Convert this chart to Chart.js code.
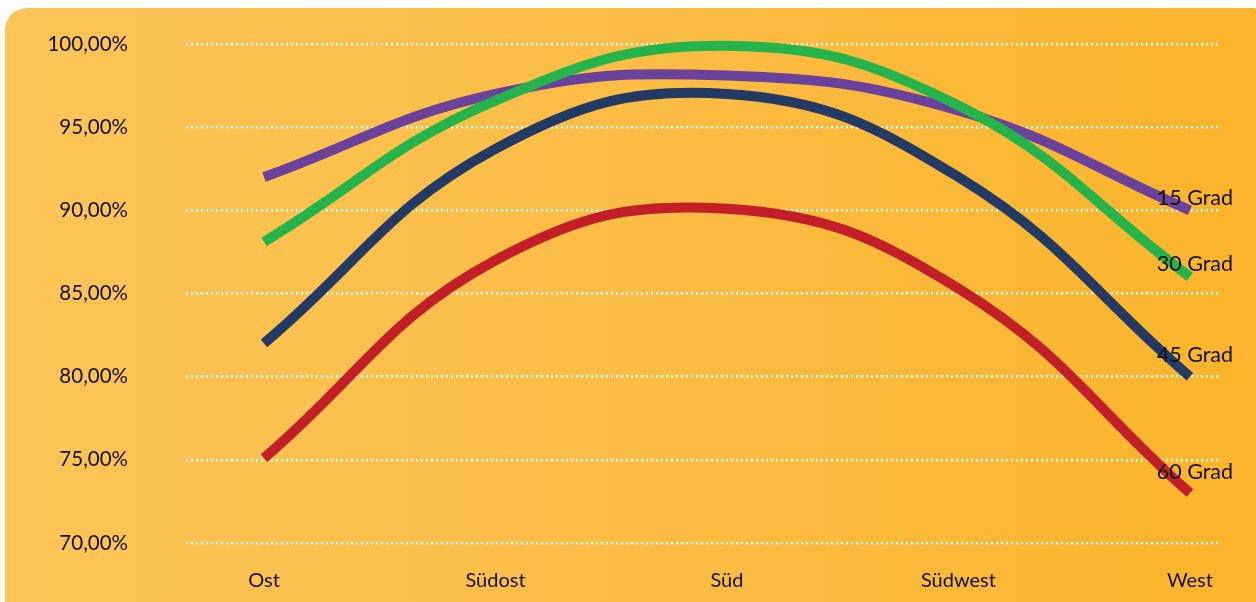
<!DOCTYPE html>
<html>
<head>
<meta charset="utf-8">
<script src="https://cdn.jsdelivr.net/npm/chart.js@4"></script>
<style>
  html, body { margin: 0; padding: 0; background: #fff; overflow: hidden; }
  #wrap {
    position: absolute; left: 5px; top: 8px; width: 1270px; height: 620px;
    border-radius: 22px;
    background: linear-gradient(to right, #fdc457 0%, #fcbd45 50%, #fbb42a 100%);
  }
  #chart { position: absolute; left: 0; top: 0; }
</style>
</head>
<body>
<div id="wrap"></div>
<canvas id="chart" width="1256" height="602"></canvas>
<script>
// Kategorien (Ausrichtung) und Werte in Prozent
const categories = ['Ost', 'Südost', 'Süd', 'Südwest', 'West'];
const seriesNames = ['15 Grad', '30 Grad', '45 Grad', '60 Grad'];
const grad15 = [92.0, 97.0, 98.1, 96.0, 90.0];
const grad30 = [88.1, 96.6, 99.9, 96.3, 86.0];
const grad45 = [82.0, 93.7, 97.0, 92.0, 80.0];
const grad60 = [75.1, 87.0, 90.1, 85.3, 73.0];
const yTicks = [70, 75, 80, 85, 90, 95, 100];

const colors = ['#6a419b', '#25b34b', '#223a64', '#c21f28'];
const allSeries = [grad15, grad30, grad45, grad60];

// Beschriftung am Linienende
const endLabels = {
    id: 'endLabels',
    afterDatasetsDraw(chart) {
        const ctx = chart.ctx;
        const offsets = { '15 Grad': 12, '30 Grad': 13, '45 Grad': 22, '60 Grad': 21 };
        ctx.save();
        ctx.font = '21.5px Lato';
        ctx.fillStyle = '#111';
        ctx.textAlign = 'center';
        ctx.textBaseline = 'middle';
        chart.data.datasets.forEach((ds, i) => {
            const meta = chart.getDatasetMeta(i);
            const pt = meta.data[meta.data.length - 1];
            ctx.fillText(ds.label, pt.x + 5, pt.y - offsets[ds.label]);
        });
        ctx.restore();
    }
};

new Chart(document.getElementById('chart'), {
    type: 'line',
    data: {
        datasets: allSeries.map((vals, i) => ({
            label: seriesNames[i],
            data: vals.map((v, k) => ({ x: k, y: v })),
            borderColor: colors[i],
            borderWidth: 10,
            pointRadius: 0,
            tension: 0.42,
            fill: false,
            clip: false
        })).reverse()
    },
    options: {
        responsive: false,
        animation: false,
        layout: { padding: { top: 44, right: 36, left: 0, bottom: 0 } },
        plugins: { legend: { display: false }, tooltip: { enabled: false } },
        scales: {
            x: {
                type: 'linear',
                min: -0.337,
                max: 4.13,
                afterBuildTicks: s => { s.ticks = categories.map((c, k) => ({ value: k })); },
                afterFit: s => { s.height = 59; },
                grid: { display: false, drawTicks: false },
                border: { display: false },
                ticks: {
                    callback: v => categories[v],
                    font: { family: 'Lato', size: 20 },
                    color: '#111',
                    padding: 26,
                    maxRotation: 0,
                    autoSkip: false
                }
            },
            y: {
                min: 70,
                max: 100,
                afterBuildTicks: s => { s.ticks = yTicks.map(v => ({ value: v })); },
                afterFit: s => { s.width = 186; },
                border: { display: false, dash: [2, 3] },
                grid: {
                    color: '#ffffff',
                    lineWidth: 2.5,
                    drawTicks: true,
                    tickLength: 58,
                    tickColor: 'rgba(0,0,0,0)'
                },
                ticks: {
                    callback: v => v.toFixed(2).replace('.', ',') + '%',
                    font: { family: 'Lato', size: 20.5 },
                    color: '#111',
                    padding: 0
                }
            }
        }
    },
    plugins: [endLabels]
});
</script>
</body>
</html>
